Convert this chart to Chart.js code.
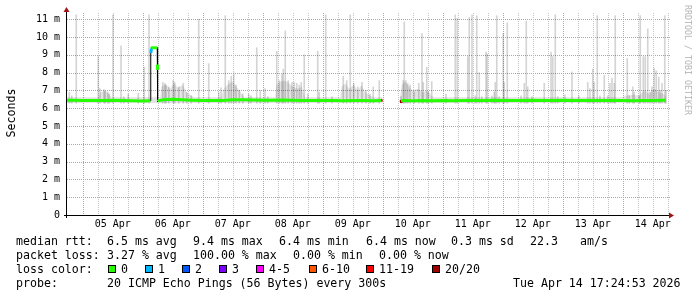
<!DOCTYPE html>
<html>
<head>
<meta charset="utf-8">
<title>SmokePing latency</title>
<script src="https://cdn.jsdelivr.net/npm/chart.js@4.4.1/dist/chart.umd.min.js"></script>
<style>
    body { margin: 0; background: #fff; }
    #wrap { position: relative; width: 697px; height: 297px; overflow: hidden; font-family: "DejaVu Sans Mono", monospace; color: #000; }
    #chart { position: absolute; left: 0; top: 0; }
    .txt { position: absolute; font-size: 11.6px; line-height: 14px; white-space: pre; }
    .sq { position: absolute; top: 265px; width: 6px; height: 6px; border: 1px solid #000; }
    #ytitle { position: absolute; left: -19.5px; top: 106px; width: 60px; height: 14px; line-height: 14px; font-size: 11.6px; text-align: center; transform: rotate(-90deg); }
    #mark { position: absolute; left: 627.5px; top: 55px; width: 120px; height: 10px; line-height: 10px; font-size: 8.3px; text-align: center; color: #b4b4b4; transform: rotate(90deg); }
</style>
</head>
<body>
<div id="wrap">
    <canvas id="chart" width="697" height="297"></canvas>
    <div id="ytitle">Seconds</div>
    <div id="mark">RRDTOOL / TOBI OETIKER</div>

    <div class="txt" style="left:16px;top:234px">median rtt:</div>
    <div class="txt" style="left:107px;top:234px">6.5 ms avg</div>
    <div class="txt" style="left:193px;top:234px">9.4 ms max</div>
    <div class="txt" style="left:279px;top:234px">6.4 ms min</div>
    <div class="txt" style="left:366px;top:234px">6.4 ms now</div>
    <div class="txt" style="left:451px;top:234px">0.3 ms sd</div>
    <div class="txt" style="left:530px;top:234px">22.3</div>
    <div class="txt" style="left:580px;top:234px">am/s</div>

    <div class="txt" style="left:16px;top:248px">packet loss:</div>
    <div class="txt" style="left:107px;top:248px">3.27 % avg</div>
    <div class="txt" style="left:193px;top:248px">100.00 % max</div>
    <div class="txt" style="left:293px;top:248px">0.00 % min</div>
    <div class="txt" style="left:379px;top:248px">0.00 % now</div>

    <div class="txt" style="left:16px;top:262px">loss color:</div>
    <div id="lossLegend"></div>

    <div class="txt" style="left:16px;top:276px">probe:</div>
    <div class="txt" style="left:107px;top:276px">20 ICMP Echo Pings (56 Bytes) every 300s</div>
    <div class="txt" style="left:513px;top:276px">Tue Apr 14 17:24:53 2026</div>
</div>

<script>
// x values are hours counted from 05 Apr 00:00

const dayLabels = ['05 Apr', '06 Apr', '07 Apr', '08 Apr', '09 Apr', '10 Apr', '11 Apr', '12 Apr', '13 Apr', '14 Apr'];

const lossBuckets = ['0', '1', '2', '3', '4-5', '6-10', '11-19', '20/20'];
const lossColors = ['#26ff00', '#00b8ff', '#0059ff', '#7e00ff', '#ff00ff', '#ff5500', '#ff0000', '#a10000'];

// median rtt (ms), null = no data
const medianTimes = [-6.3, -4, 0, 4, 8, 12, 16, 20, 24,
    27.0, 27.2, 27.5, 27.7, 29.8, 29.9, 29.92, 30.0, 30.3,
    32, 36, 40, 44, 48, 52, 56, 60, 64, 68,
    72, 76, 80, 84, 88, 92, 96, 100, 104, 108,
    112, 116, 119.4, 119.9, 120.3,
    126.9, 127.3, 127.6, 128, 132, 136, 140, 144, 148, 152,
    156, 160, 164, 168, 172, 176, 180, 184, 188, 192,
    196, 200, 204, 208, 212, 216, 220, 224, 228, 232, 233.3];
const medianValues = [6.45, 6.45, 6.44, 6.43, 6.44, 6.45, 6.44, 6.42, 6.41,
    6.42, 9.1, 9.35, 9.4, 9.4, 8.45, 8.15, 6.38, 6.42,
    6.48, 6.5, 6.47, 6.45, 6.44, 6.43, 6.44, 6.48, 6.47, 6.46,
    6.45, 6.45, 6.46, 6.45, 6.44, 6.44, 6.43, 6.44, 6.42, 6.43,
    6.44, 6.42, 6.44, 6.45, null,
    6.38, 6.42, 6.43, 6.43, 6.42, 6.43, 6.42, 6.44, 6.42, 6.43,
    6.43, 6.44, 6.45, 6.43, 6.44, 6.44, 6.45, 6.44, 6.43, 6.45,
    6.44, 6.43, 6.44, 6.43, 6.44, 6.43, 6.42, 6.44, 6.44, 6.45, 6.45];

// samples where pings were lost (time, lost of 20)
const lossTimes = [27.5, 119.9, 127.3];
const lossCounts = [1, 15, 20];

// smoke: tallest ping of each spike (ms)
const spikeTimes = [-5.4, -4.4, -2.6, 6.2, 6.9, 8.5, 9.0, 10.0, 10.6, 12.1,
    15.3, 16.4, 18.2, 22.2, 24.6, 26.5, 32.0, 32.8, 33.3, 34.4,
    36.2, 36.8, 38.4, 40.2, 41.6, 43.4, 46.4, 50.4, 54.4, 55.3,
    57.0, 58.4, 59.4, 60.4, 61.3, 62.6, 64.0, 66.4, 67.3, 69.6,
    71.0, 72.9,
    74.0, 77.6, 78.6, 79.7, 80.2, 81.0, 82.2, 83.7, 84.6, 85.6,
    86.6, 87.4, 88.6, 90.0, 94.0, 94.6, 97.2, 99.7, 104.2, 105.6,
    107.0, 108.4, 110.0, 111.7, 113.3, 114.9, 116.2, 118.6,
    127.3, 128.2, 128.6, 129.3, 130.0, 130.9, 132.6, 134.4, 135.7, 136.2,
    137.6, 138.2, 139.6, 145.3, 149.0, 149.8, 154.0,
    154.6, 155.7, 157.0, 157.6, 158.6, 159.6, 161.3, 161.8, 163.7, 164.6,
    165.0, 165.6, 166.6, 168.2, 168.6, 169.8, 175.3, 176.6, 177.4, 178.0,
    179.7, 184.6, 187.3, 188.0, 189.0, 190.0, 192.9, 195.7, 198.4, 202.0,
    202.9, 204.0, 204.6, 205.8, 206.9, 208.6, 210.0, 210.9, 211.7, 212.6,
    213.0, 217.8, 218.6, 220.0, 220.6, 222.6, 223.0, 224.2, 225.0, 226.0,
    226.9, 227.7, 228.6, 229.4, 230.4, 231.0, 231.7, 232.8, 233.3];
const spikeTops = [6.9, 6.7, 11.25, 8.9, 7.1, 7.05, 6.95, 6.9, 6.8, 11.25,
    9.5, 6.65, 6.8, 6.85, 8.3, 11.25, 7.45, 7.4, 7.3, 7.2,
    7.55, 7.45, 7.2, 7.4, 6.9, 6.7, 11.0, 8.5, 6.9, 7.15,
    11.2, 7.55, 7.8, 8.0, 7.3, 7.0, 6.8, 6.8, 6.7, 9.4,
    7.0, 7.1,
    6.65, 9.2, 7.55, 7.9, 8.2, 10.35, 7.55, 7.45, 7.45, 7.4,
    7.3, 7.45, 9.0, 6.8, 9.2, 6.9, 11.25, 6.65, 7.8, 7.55,
    11.25, 7.4, 7.2, 7.45, 7.0, 6.8, 7.2, 7.55,
    6.65, 7.55, 10.85, 7.55, 7.4, 7.3, 6.9, 7.4, 10.2, 7.45,
    8.3, 6.9, 7.5, 6.8, 11.25, 11.05, 8.9,
    11.1, 11.25, 6.7, 11.2, 8.0, 6.65, 9.15, 9.05, 6.7, 6.9,
    7.45, 11.2, 6.65, 10.2, 7.45, 10.8, 6.7, 7.4, 10.9, 7.2,
    6.65, 7.4, 9.15, 8.9, 11.25, 6.65, 6.75, 8.05, 6.7, 7.45,
    7.1, 8.2, 7.45, 11.2, 6.7, 7.85, 6.7, 7.4, 7.7, 7.4,
    11.2, 8.8, 6.7, 7.2, 6.9, 6.7, 11.2, 8.9, 8.9, 10.45,
    6.9, 7.2, 8.25, 8.1, 7.75, 7.0, 7.4, 11.2, 7.0];
const smokeFloor = 6.28;

// smoke: dense band of pings just above the median
const hazeTimes = [-6.3, 6.5, 7, 9, 10.5, 11.5,
    31, 31.5, 33, 35, 36.5, 38, 40, 41.5, 43.5, 44.5,
    55.5, 56, 58, 60, 61.5, 63, 64.5, 65,
    77, 77.5, 79, 81, 82.5, 84, 86, 87.5, 89, 89.5,
    103, 103.5, 105, 106.5, 108.5, 110, 111.5, 113, 115, 116.5,
    119.9, 120.3,
    126.9, 127.6, 129, 130.5, 132, 134, 136, 138, 139.5, 140.5,
    216, 217, 220, 222.5, 224.5, 226.5, 228.5, 230.5, 232.5, 233.3];
const hazeTops = [6.62, 6.62, 6.9, 7.0, 6.8, 6.62,
    6.62, 7.2, 7.35, 7.1, 7.4, 7.15, 7.3, 6.9, 6.7, 6.62,
    6.62, 7.0, 7.35, 7.5, 7.2, 6.95, 6.6, 6.62,
    6.62, 7.3, 7.5, 7.55, 7.4, 7.2, 7.1, 7.2, 6.6, 6.62,
    6.62, 7.2, 7.4, 7.1, 7.3, 7.0, 7.3, 6.9, 6.7, 6.62,
    6.62, null,
    6.62, 7.3, 7.5, 7.2, 7.0, 7.1, 6.9, 7.0, 6.7, 6.62,
    6.62, 6.7, 6.75, 6.7, 7.0, 6.8, 7.1, 6.9, 6.8, 6.6];

const yTicks = [0, 0.5, 1, 1.5, 2, 2.5, 3, 3.5, 4, 4.5, 5, 5.5, 6, 6.5, 7, 7.5, 8, 8.5, 9, 9.5, 10, 10.5, 11];

const majorGrid = '#ec8c8c';
const minorGrid = '#c4c4c4';
const monoFont = 'DejaVu Sans Mono';

function lossColor(count) {
    if (count <= 3) return lossColors[count];
    if (count <= 5) return lossColors[4];
    if (count <= 10) return lossColors[5];
    if (count <= 19) return lossColors[6];
    return lossColors[7];
}

function toPoints(times, values) {
    return times.map((t, i) => ({ x: t, y: values[i] }));
}

// loss colour swatches in the footer
function buildLossLegend() {
    const box = document.getElementById('lossLegend');
    const squareX = [108, 145, 182, 219, 256, 309, 366, 432];
    lossBuckets.forEach((name, i) => {
        const sq = document.createElement('div');
        sq.className = 'sq';
        sq.style.left = squareX[i] + 'px';
        sq.style.background = lossColors[i];
        box.appendChild(sq);

        const label = document.createElement('div');
        label.className = 'txt';
        label.style.left = (squareX[i] + 13) + 'px';
        label.style.top = '262px';
        label.textContent = name;
        box.appendChild(label);
    });
}

// green/loss coloured median, hidden on the big jumps so the black line shows
function medianSegmentColor(ctx) {
    if (Math.abs(ctx.p1.parsed.y - ctx.p0.parsed.y) > 0.8) return 'rgba(0,0,0,0)';
    const k = lossTimes.indexOf(ctx.p1.parsed.x);
    return lossColor(k >= 0 ? lossCounts[k] : 0);
}

// dotted rrdtool grid, placed on the scales' own ticks
const dottedGrid = {
    id: 'dottedGrid',
    beforeDatasetsDraw(chart) {
        const ctx = chart.ctx;
        const a = chart.chartArea;
        const xs = chart.scales.x;
        const ys = chart.scales.y;
        ctx.save();
        ys.ticks.forEach(t => {
            const py = Math.round(ys.getPixelForValue(t.value));
            if (py <= a.top) return;
            ctx.fillStyle = Number.isInteger(t.value) ? majorGrid : minorGrid;
            for (let px = Math.round(a.left); px <= a.right + 2; px += 2) ctx.fillRect(px, py, 1, 1);
        });
        xs.ticks.forEach(t => {
            const px = Math.round(xs.getPixelForValue(t.value));
            ctx.fillStyle = (t.value % 24 === 0) ? majorGrid : minorGrid;
            for (let py = Math.round(a.top); py < a.bottom; py += 2) ctx.fillRect(px, py, 1, 1);
        });
        ctx.restore();
    }
};

// rrdtool style axis lines with small arrow heads
const axisArrows = {
    id: 'axisArrows',
    afterDatasetsDraw(chart) {
        const ctx = chart.ctx;
        const a = chart.chartArea;
        ctx.save();
        ctx.strokeStyle = '#000';
        ctx.lineWidth = 1;
        ctx.beginPath();
        ctx.moveTo(a.left - 0.5, a.bottom + 3);
        ctx.lineTo(a.left - 0.5, a.top - 2);
        ctx.moveTo(a.left - 3, a.bottom + 0.5);
        ctx.lineTo(a.right + 2, a.bottom + 0.5);
        ctx.stroke();

        ctx.fillStyle = '#a01414';
        ctx.beginPath();
        ctx.moveTo(a.left - 0.5, a.top - 6);
        ctx.lineTo(a.left - 3.5, a.top - 1);
        ctx.lineTo(a.left + 2.5, a.top - 1);
        ctx.closePath();
        ctx.fill();

        ctx.beginPath();
        ctx.moveTo(a.right + 6, a.bottom + 0.5);
        ctx.lineTo(a.right + 1, a.bottom - 2.5);
        ctx.lineTo(a.right + 1, a.bottom + 3.5);
        ctx.closePath();
        ctx.fill();
        ctx.restore();
    }
};

function drawChart() {
    const medianPoints = toPoints(medianTimes, medianValues);
    const spikePoints = spikeTimes.map((t, i) => ({ x: t, y: [smokeFloor, spikeTops[i]] }));
    const hazePoints = toPoints(hazeTimes, hazeTops);

    const xTicks = [];
    for (let h = 0; h <= 234; h += 6) xTicks.push(h);

    return new Chart(document.getElementById('chart'), {
        type: 'line',
        data: {
            datasets: [
                {
                    type: 'line',
                    label: 'median rtt',
                    data: medianPoints,
                    borderColor: lossColors[0],
                    borderWidth: 3,
                    pointRadius: 0,
                    spanGaps: false,
                    segment: { borderColor: medianSegmentColor },
                    order: 1
                },
                {
                    type: 'line',
                    label: 'median edge',
                    data: medianPoints,
                    borderColor: '#000',
                    borderWidth: 1,
                    pointRadius: 0,
                    spanGaps: false,
                    order: 2
                },
                {
                    type: 'bar',
                    label: 'smoke',
                    data: spikePoints,
                    backgroundColor: 'rgba(0, 0, 0, 0.17)',
                    barThickness: 1,
                    order: 3
                },
                {
                    type: 'line',
                    label: 'smoke band',
                    data: hazePoints,
                    borderColor: 'rgba(0,0,0,0)',
                    backgroundColor: 'rgba(0, 0, 0, 0.11)',
                    pointRadius: 0,
                    spanGaps: false,
                    fill: { value: 6.3 },
                    order: 4
                }
            ]
        },
        options: {
            responsive: false,
            animation: false,
            devicePixelRatio: 1,
            layout: { padding: { left: 0, top: 13, right: 29, bottom: 0 } },
            plugins: {
                legend: { display: false },
                tooltip: { enabled: false }
            },
            scales: {
                x: {
                    type: 'linear',
                    min: -6.3,
                    max: 234.1,
                    offset: false,
                    afterBuildTicks: s => { s.ticks = xTicks.map(v => ({ value: v })); },
                    afterFit: s => { s.height = 82; },
                    grid: { display: false, drawTicks: false, offset: false },
                    border: { display: false },
                    ticks: {
                        autoSkip: false,
                        maxRotation: 0,
                        padding: 3,
                        color: '#000',
                        font: { family: monoFont, size: 10 },
                        callback: v => (v % 24 === 12) ? dayLabels[(v - 12) / 24] : ''
                    }
                },
                y: {
                    min: 0,
                    max: 11.35,
                    afterBuildTicks: s => { s.ticks = yTicks.map(v => ({ value: v })); },
                    afterFit: s => { s.width = 67; },
                    grid: { display: false, drawTicks: false },
                    border: { display: false },
                    ticks: {
                        padding: 7,
                        color: '#000',
                        font: { family: monoFont, size: 10 },
                        callback: v => Number.isInteger(v) ? (v === 0 ? '0' : v + ' m') : ''
                    }
                }
            }
        },
        plugins: [dottedGrid, axisArrows]
    });
}

buildLossLegend();
drawChart();
</script>
</body>
</html>
